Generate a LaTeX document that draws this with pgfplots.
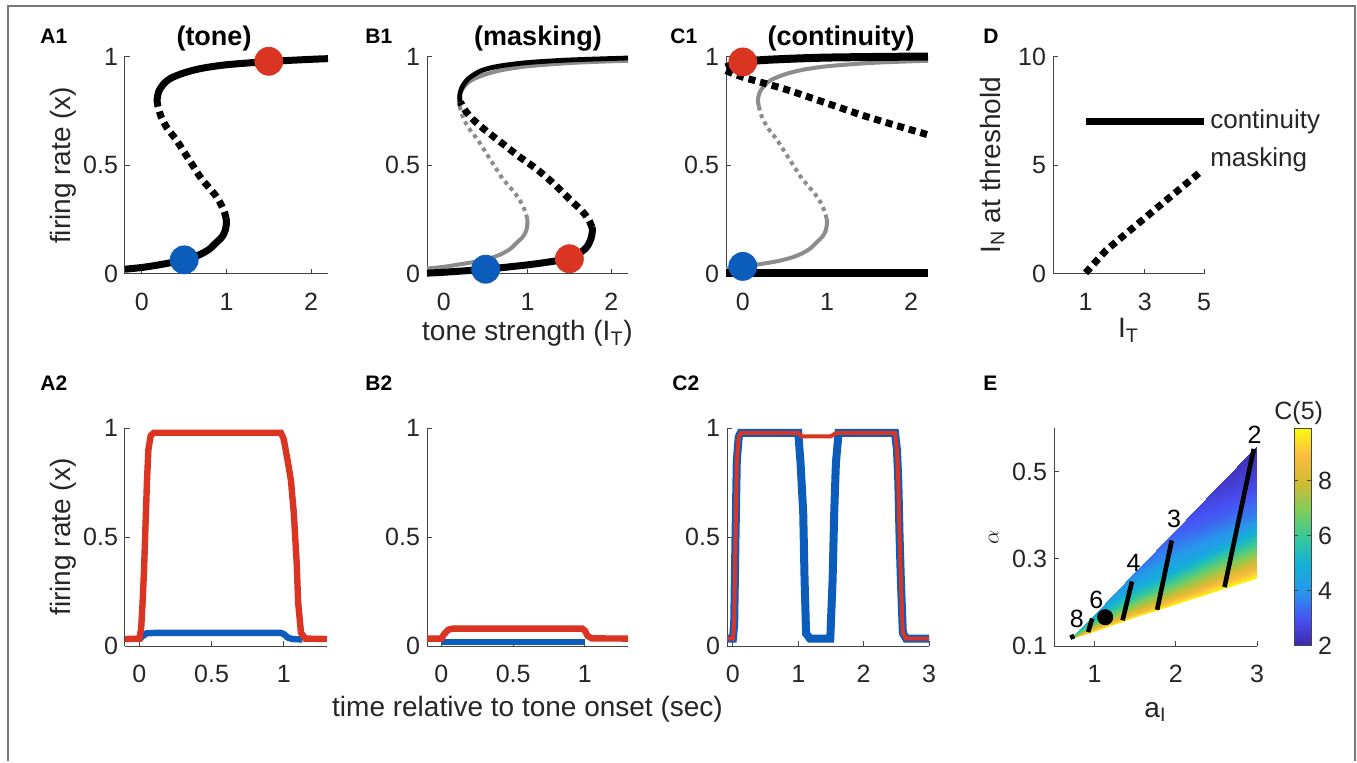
\documentclass[border=0pt]{standalone}
\usepackage{pgfplots}
\pgfplotsset{compat=1.18}
\usepackage{fontspec}
\setmainfont{Liberation Sans}
\definecolor{myred}{RGB}{218,52,34}
\definecolor{myblue}{RGB}{12,92,188}
\definecolor{mygray}{RGB}{140,140,140}
\definecolor{axgray}{RGB}{70,70,70}
\definecolor{framegray}{RGB}{120,120,120}
\pgfplotsset{
  colormap={parula}{rgb=(0.2422,0.1504,0.6603) rgb=(0.2810,0.3228,0.9579) rgb=(0.1540,0.5902,0.9218) rgb=(0.0689,0.6948,0.8394) rgb=(0.2161,0.7843,0.5923) rgb=(0.5044,0.7993,0.3480) rgb=(0.8185,0.7327,0.1903) rgb=(0.9856,0.7372,0.2537) rgb=(0.9763,0.9831,0.0538)},
  base/.style={
    scale only axis,
    axis x line*=bottom, axis y line*=left,
    axis line style={-, draw=axgray, line width=0.5pt},
    tick style={draw=axgray, line width=0.5pt},
    tick align=inside,
    major tick length=2.5pt,
    tick label style={font=\fontsize{12.5}{14}\selectfont, text=black!85},
    xticklabel style={yshift=-6pt},
    label style={font=\fontsize{14}{16}\selectfont, text=black!85},
    /pgf/number format/assume math mode=true,
    clip=false,
  },
  ylright/.style={ylabel style={at={(ticklabel cs:0.5,-3.5pt)}}},
  toprow/.style={base, height=108.75pt, ymin=0, ymax=1, ytick={0,0.5,1}, xmin=-0.2, xmax=2.2, xtick={0,1,2}},
  botrow/.style={base, height=109pt, ymin=0, ymax=1, ytick={0,0.5,1}},
  blk/.style={black, line width=3.5pt},
  blkdash/.style={black, line width=3.5pt, dash pattern=on 3.5pt off 2.5pt},
  gry/.style={mygray, line width=2pt},
  grydot/.style={mygray, line width=2pt, dash pattern=on 2pt off 2pt},
  dot/.style={only marks, mark=*, mark size=7pt},
}
\newcommand{\panel}[3]{\node[anchor=west, inner sep=0pt, font=\fontsize{10.5}{12}\bfseries\selectfont] at (#1,#2) {#3};}
\begin{document}
\begin{tikzpicture}
\fill[white] (0pt,0pt) rectangle (678.5pt,380.5pt);
\draw[framegray, line width=1pt] (4pt,0pt) -- (4pt,377.5pt) -- (677.5pt,377.5pt) -- (677.5pt,0pt);

% ---------- A1 ----------
\begin{axis}[toprow, ylright, at={(62.5pt,243.5pt)}, anchor=south west, width=101.5pt, ylabel={firing rate (x)}]
\addplot[blk, smooth] coordinates {(-0.2,0.022) (0,0.03) (0.2,0.042) (0.4,0.056) (0.5,0.065) (0.6,0.076) (0.7,0.092) (0.8,0.115) (0.88,0.145) (0.947,0.17) (0.985,0.2) (1.0,0.235) (0.995,0.255)};
\addplot[blkdash, smooth] coordinates {(0.995,0.255) (0.97,0.29) (0.9,0.345) (0.81,0.39) (0.7,0.44) (0.6,0.5) (0.5,0.56) (0.4,0.62) (0.3,0.67) (0.23,0.72) (0.19,0.77)};
\addplot[blk, smooth] coordinates {(0.19,0.77) (0.18,0.80) (0.2,0.84) (0.26,0.875) (0.34,0.9) (0.5,0.925) (0.7,0.945) (1.0,0.962) (1.5,0.977) (2.0,0.987) (2.2,0.99)};
\addplot[dot, myblue] coordinates {(0.5,0.065)};
\addplot[dot, myred] coordinates {(1.5,0.978)};
\end{axis}

% ---------- B1 ----------
\begin{axis}[toprow, at={(213.5pt,243.5pt)}, anchor=south west, width=100.5pt, xlabel={tone strength (I\textsubscript{T})}, xlabel style={yshift=2pt}]
\addplot[gry, smooth] coordinates {(-0.2,0.025) (0,0.033) (0.2,0.045) (0.4,0.058) (0.5,0.067) (0.6,0.078) (0.7,0.094) (0.8,0.117) (0.88,0.147) (0.947,0.172) (0.985,0.2) (1.0,0.235) (0.995,0.255)};
\addplot[grydot, smooth] coordinates {(0.995,0.255) (0.97,0.29) (0.9,0.345) (0.81,0.39) (0.7,0.44) (0.6,0.5) (0.5,0.56) (0.4,0.62) (0.3,0.67) (0.23,0.72) (0.19,0.77)};
\addplot[gry, smooth] coordinates {(0.19,0.77) (0.18,0.80) (0.2,0.835) (0.26,0.868) (0.34,0.893) (0.5,0.918) (0.7,0.938) (1.0,0.955) (1.5,0.97) (2.0,0.978) (2.2,0.98)};
\addplot[blk, smooth] coordinates {(-0.2,0.004) (0,0.008) (0.5,0.022) (1.0,0.042) (1.3,0.058) (1.5,0.072) (1.62,0.095) (1.71,0.125) (1.76,0.165) (1.775,0.2) (1.77,0.215)};
\addplot[blkdash, smooth] coordinates {(1.77,0.215) (1.73,0.25) (1.65,0.29) (1.5,0.345) (1.3,0.42) (1.1,0.485) (0.9,0.54) (0.7,0.6) (0.5,0.66) (0.35,0.71) (0.26,0.75) (0.2,0.79)};
\addplot[black, line width=2.4pt, smooth] coordinates {(0.2,0.79) (0.19,0.82) (0.22,0.86) (0.3,0.9) (0.45,0.935) (0.65,0.955) (1.0,0.972) (1.5,0.984) (2.2,0.993)};
\addplot[dot, myblue] coordinates {(0.5,0.022)};
\addplot[dot, myred] coordinates {(1.5,0.07)};
\end{axis}

% ---------- C1 ----------
\begin{axis}[toprow, at={(363pt,243.5pt)}, anchor=south west, width=101pt]
\addplot[gry, smooth] coordinates {(-0.2,0.025) (0,0.033) (0.2,0.045) (0.4,0.058) (0.5,0.067) (0.6,0.078) (0.7,0.094) (0.8,0.117) (0.88,0.147) (0.947,0.172) (0.985,0.2) (1.0,0.235) (0.995,0.255)};
\addplot[grydot, smooth] coordinates {(0.995,0.255) (0.97,0.29) (0.9,0.345) (0.81,0.39) (0.7,0.44) (0.6,0.5) (0.5,0.56) (0.4,0.62) (0.3,0.67) (0.23,0.72) (0.19,0.77)};
\addplot[gry, smooth] coordinates {(0.19,0.77) (0.18,0.80) (0.2,0.835) (0.26,0.868) (0.34,0.893) (0.5,0.918) (0.7,0.938) (1.0,0.955) (1.5,0.97) (2.0,0.978) (2.2,0.98)};
\addplot[black, line width=4pt] coordinates {(-0.2,0.003) (2.2,0.003)};
\addplot[black, line width=4pt, smooth] coordinates {(-0.2,0.95) (-0.1,0.965) (0,0.975) (0.3,0.985) (1,0.995) (2.2,1.0)};
\addplot[blkdash, smooth] coordinates {(-0.2,0.935) (0,0.905) (0.5,0.85) (1,0.785) (1.5,0.72) (2.2,0.64)};
\addplot[dot, myblue] coordinates {(0,0.035)};
\addplot[dot, myred] coordinates {(0,0.975)};
\end{axis}

% ---------- D ----------
\begin{axis}[base, at={(526.5pt,243.5pt)}, anchor=south west, width=75.5pt, height=108.75pt,
  xmin=-0.1, xmax=5, ymin=0, ymax=10, xtick={1,3,5}, ytick={0,5,10},
  xlabel={I\textsubscript{T}}, xlabel style={yshift=3pt}, ylabel={I\textsubscript{N} at threshold}]
\addplot[black, line width=3.5pt] coordinates {(1,7) (5,7)};
\addplot[blkdash] coordinates {(1,0.05) (1.7,1.1) (2.84,2.39) (3.98,3.68) (4.93,4.75)};
\node[anchor=west, inner sep=0pt, font=\fontsize{13}{15}\selectfont, text=black!85] at (axis cs:5.2,7) {continuity};
\node[anchor=west, inner sep=0pt, font=\fontsize{13}{15}\selectfont, text=black!85] at (axis cs:5.2,5.25) {masking};
\end{axis}

% ---------- A2 ----------
\begin{axis}[botrow, ylright, at={(62.5pt,57.5pt)}, anchor=south west, width=101pt, xmin=-0.1, xmax=1.3, xtick={0,0.5,1}, ylabel={firing rate (x)}]
\addplot[myblue, line width=3.2pt] coordinates {(0,0.03) (0.02,0.045) (0.05,0.058) (0.1,0.06) (0.98,0.06) (1.0,0.055) (1.03,0.038) (1.06,0.032) (1.13,0.03)};
\addplot[myred, line width=3.2pt] coordinates {(-0.1,0.032) (0,0.034) (0.012,0.08) (0.022,0.2) (0.032,0.35) (0.042,0.55) (0.052,0.75) (0.062,0.9) (0.078,0.965) (0.1,0.978) (0.98,0.978) (1.0,0.95) (1.03,0.84) (1.05,0.76) (1.07,0.61) (1.09,0.38) (1.1,0.2) (1.12,0.06) (1.15,0.034) (1.3,0.032)};
\end{axis}

% ---------- B2 ----------
\begin{axis}[botrow, at={(213.5pt,57.5pt)}, anchor=south west, width=100.5pt, xmin=-0.1, xmax=1.3, xtick={0,0.5,1}, xlabel={time relative to tone onset (sec)}]
\addplot[myblue, line width=3.2pt] coordinates {(0,0.018) (1.0,0.018)};
\addplot[myred, line width=3.2pt] coordinates {(-0.1,0.034) (0,0.034) (0.02,0.055) (0.05,0.075) (0.08,0.08) (0.98,0.08) (1.0,0.07) (1.02,0.045) (1.05,0.035) (1.3,0.034)};
\end{axis}

% ---------- C2 ----------
\begin{axis}[botrow, at={(363.5pt,57.5pt)}, anchor=south west, width=101pt, xmin=-0.09, xmax=3, xtick={0,1,2,3}]
\addplot[myblue, line width=4pt] coordinates {(-0.09,0.034) (0,0.034) (0.02,0.1) (0.04,0.5) (0.06,0.85) (0.09,0.96) (0.12,0.978) (1.0,0.978) (1.035,0.84) (1.076,0.61) (1.097,0.3) (1.12,0.057) (1.18,0.034) (1.49,0.034) (1.525,0.3) (1.55,0.61) (1.576,0.84) (1.617,0.978) (2.48,0.978) (2.51,0.9) (2.53,0.76) (2.55,0.5) (2.57,0.3) (2.6,0.06) (2.65,0.034) (3,0.034)};
\addplot[myred, line width=2pt] coordinates {(-0.09,0.034) (0,0.034) (0.02,0.1) (0.04,0.5) (0.06,0.85) (0.09,0.96) (0.12,0.978) (1.0,0.978) (1.05,0.962) (1.5,0.962) (1.55,0.972) (1.6,0.978) (2.48,0.978) (2.51,0.9) (2.53,0.76) (2.55,0.5) (2.57,0.3) (2.6,0.06) (2.65,0.034) (3,0.034)};
\end{axis}

% ---------- E ----------
\begin{axis}[base, at={(527pt,57.5pt)}, anchor=south west, width=101.5pt, height=109pt,
  xmin=0.5, xmax=3, ymin=0.1, ymax=0.6, xtick={1,2,3}, ytick={0.1,0.3,0.5},
  xlabel={a\textsubscript{I}}, ylabel={$\alpha$},
  xlabel style={yshift=-3pt},
  ylabel style={font=\fontsize{11}{12}\selectfont},
  point meta min=2, point meta max=9.9,
  colorbar,
  colorbar style={at={(parent axis.north east)}, anchor=north west, xshift=10pt, width=8.5pt,
    ytick={2,4,6,8}, tick align=inside, major tick length=2pt,
    yticklabel style={font=\fontsize{12.5}{14}\selectfont, text=black!85},
    axis line style={draw=axgray, line width=0.5pt}, tick style={draw=axgray, line width=0.5pt},
    /pgf/number format/assume math mode=true}]
\addplot[surf, shader=interp, mesh/cols=6, point meta=explicit] table[x=x, y=y, meta=c] {
x y c
0.7 0.117 9.9
0.7 0.117 9.2
0.7 0.117 8.4
0.7 0.117 7.6
0.7 0.117 6.8
0.7 0.117 6.0
1.0 0.1353 9.9
1.0 0.1392 8.8
1.0 0.1451 7.6
1.0 0.1529 6.5
1.0 0.1627 5.5
1.0 0.1745 4.6
1.5 0.1657 9.9
1.5 0.1762 8.6
1.5 0.1919 7.2
1.5 0.2128 5.8
1.5 0.2390 4.6
1.5 0.2704 3.7
2.0 0.1962 9.9
2.0 0.2132 8.4
2.0 0.2387 6.8
2.0 0.2727 5.0
2.0 0.3152 3.9
2.0 0.3662 3.1
2.5 0.2266 9.9
2.5 0.2502 8.3
2.5 0.2855 6.5
2.5 0.3326 4.3
2.5 0.3915 3.2
2.5 0.4621 2.5
3.0 0.2571 9.9
3.0 0.2872 8.2
3.0 0.3323 6.2
3.0 0.3925 3.8
3.0 0.4677 2.8
3.0 0.5579 2.1
};
\addplot[black, line width=2.3pt] coordinates {(2.60,0.235) (2.96,0.552)};
\addplot[black, line width=2.3pt] coordinates {(1.77,0.183) (1.95,0.342)};
\addplot[black, line width=2.3pt] coordinates {(1.345,0.159) (1.46,0.248)};
\addplot[black, line width=2.3pt] coordinates {(0.92,0.132) (0.97,0.163)};
\addplot[black, line width=2.3pt] coordinates {(0.70,0.119) (0.75,0.123)};
\addplot[only marks, mark=*, mark size=3.8pt, black] coordinates {(1.13,0.166)};
\node[font=\fontsize{12.5}{14}\selectfont] at (axis cs:2.97,0.585) {2};
\node[font=\fontsize{12.5}{14}\selectfont] at (axis cs:1.98,0.392) {3};
\node[font=\fontsize{12.5}{14}\selectfont] at (axis cs:1.48,0.29) {4};
\node[font=\fontsize{12.5}{14}\selectfont] at (axis cs:1.02,0.205) {6};
\node[font=\fontsize{12.5}{14}\selectfont] at (axis cs:0.78,0.163) {8};
\end{axis}
\node[anchor=west, inner sep=0pt, font=\fontsize{12.5}{14}\selectfont, text=black!85] at (637pt,174pt) {C(5)};

% ---------- panel letters & titles ----------
\panel{20pt}{362.25pt}{A1}
\panel{182.5pt}{362.25pt}{B1}
\panel{335pt}{362.25pt}{C1}
\panel{491.5pt}{362.25pt}{D}
\panel{20pt}{189pt}{A2}
\panel{182.5pt}{189pt}{B2}
\panel{336pt}{189pt}{C2}
\panel{491.5pt}{189pt}{E}
\node[font=\fontsize{13.5}{15}\bfseries\selectfont] at (107pt,361pt) {(tone)};
\node[font=\fontsize{13.5}{15}\bfseries\selectfont] at (269pt,361pt) {(masking)};
\node[font=\fontsize{13.5}{15}\bfseries\selectfont] at (420.5pt,361pt) {(continuity)};
\end{tikzpicture}
\end{document}
